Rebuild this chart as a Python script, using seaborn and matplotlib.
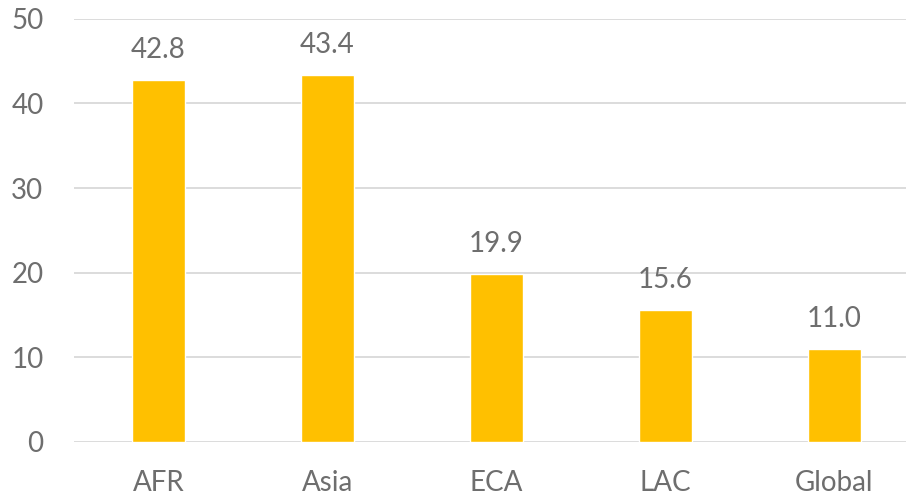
import matplotlib
matplotlib.use("Agg")
import matplotlib.pyplot as plt
import seaborn as sns
import pandas as pd

regions = ["AFR", "Asia", "ECA", "LAC", "Global"]
values = [42.8, 43.4, 19.9, 15.6, 11.0]
y_ticks = [0, 10, 20, 30, 40, 50]

sns.set_theme(style="white")
plt.rcParams["font.family"] = ["Lato", "DejaVu Sans"]

text_color = "#6e6e6e"
grid_color = "#d9d9d9"
bar_color = "#ffc000"

df = pd.DataFrame({"region": regions, "value": values})

fig = plt.figure(figsize=(9.06, 4.99), dpi=100)
ax = fig.add_axes([74 / 906, 57 / 499, 845 / 906, 423.3 / 499])

sns.barplot(data=df, x="region", y="value", color=bar_color, width=0.31,
            saturation=1, ax=ax)

ax.set_ylim(0, 50)
ax.set_yticks(y_ticks)
ax.set_xlim(-0.5, len(regions) - 0.5)
ax.yaxis.grid(True, color=grid_color, linewidth=1.3)
ax.set_axisbelow(True)
for s in ax.spines.values():
    s.set_visible(False)
ax.set_xlabel("")
ax.set_ylabel("")
ax.tick_params(axis="y", length=0, pad=22, labelsize=20, labelcolor=text_color)
ax.tick_params(axis="x", length=0, pad=20, labelsize=20, labelcolor=text_color)

for i, v in enumerate(values):
    ax.annotate(f"{v:.1f}", xy=(i, v), xytext=(0, 12), textcoords="offset points",
                ha="center", va="bottom", fontsize=20, color=text_color)

fig.savefig("out.png", dpi=100)
